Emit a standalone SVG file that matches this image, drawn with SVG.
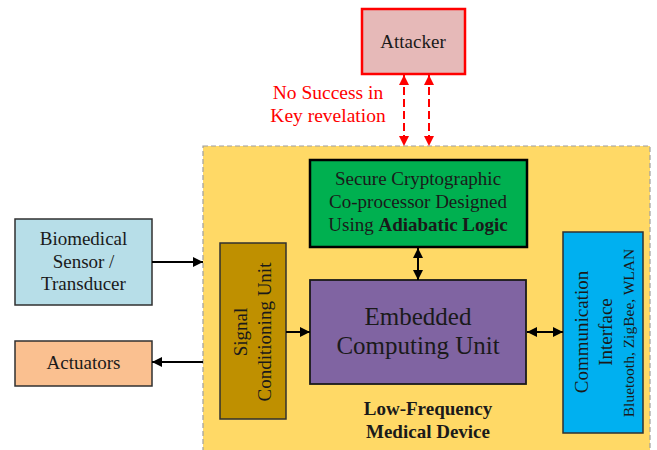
<svg xmlns="http://www.w3.org/2000/svg" width="657" height="450" viewBox="0 0 657 450">
<defs>
<marker id="ah" viewBox="0 0 10 10" refX="10" refY="5" markerWidth="11" markerHeight="10" markerUnits="userSpaceOnUse" orient="auto-start-reverse">
<path d="M0,0 L10,5 L0,10 z" fill="#000"/>
</marker>
<marker id="ahr" viewBox="0 0 10 10" refX="10" refY="5" markerWidth="11" markerHeight="10" markerUnits="userSpaceOnUse" orient="auto-start-reverse">
<path d="M0,0 L10,5 L0,10 z" fill="#ff0000"/>
</marker>
</defs>
<style>
text{font-family:'Liberation Serif','Times New Roman','DejaVu Serif',serif;font-size:19px;fill:#1a1a1a;text-anchor:middle}
.box{stroke:#303030;stroke-width:1.5}
.conn{stroke:#000;stroke-width:2;fill:none}
.red{stroke:#ff0000;stroke-width:2;fill:none;stroke-dasharray:8,4}
.b{font-weight:bold}
</style>
<rect width="657" height="450" fill="#fff"/>
<g font-family="Liberation Serif, Times New Roman, serif">
<g id="device">
<rect x="203" y="146" width="447" height="310" fill="#ffd966" stroke="#a0a0a0" stroke-width="1.2" stroke-dasharray="5,3"/>
<text class="b" x="428" y="415">Low-Frequency</text>
<text class="b" x="428" y="438">Medical Device</text>
</g>
<g id="attacker">
<rect x="362" y="9" width="103" height="65" fill="#e6b9b8" stroke="#ff0000" stroke-width="2.5"/>
<text x="413" y="48">Attacker</text>
</g>
<g id="attack-label">
<text x="328" y="99" style="fill:#ff0000;font-size:19.5px">No Success in</text>
<text x="328" y="122" style="fill:#ff0000;font-size:19.5px">Key revelation</text>
</g>
<g id="sensor">
<rect class="box" x="15" y="219" width="137" height="86" fill="#b7dee8"/>
<text x="83.5" y="245">Biomedical</text>
<text x="83.5" y="268">Sensor /</text>
<text x="83.5" y="290">Transducer</text>
</g>
<g id="actuators">
<rect class="box" x="15" y="341" width="137" height="45" fill="#fac090"/>
<text x="83.5" y="369">Actuators</text>
</g>
<g id="signal">
<rect class="box" x="220" y="243" width="66" height="176" fill="#bf9000"/>
<text transform="translate(247,332) rotate(-90)">Signal</text>
<text transform="translate(271,332) rotate(-90)">Conditioning Unit</text>
</g>
<g id="crypto">
<rect x="310" y="160" width="217" height="87" fill="#00b050" stroke="#000" stroke-width="2.5"/>
<text x="418" y="185">Secure Cryptographic</text>
<text x="418" y="208">Co-processor Designed</text>
<text x="418" y="231">Using <tspan class="b">Adiabatic Logic</tspan></text>
</g>
<g id="ecu">
<rect x="310" y="280" width="216" height="104" fill="#8064a2" stroke="#1a1a1a" stroke-width="1.8"/>
<text x="418" y="325" style="font-size:25px">Embedded</text>
<text x="418" y="354" style="font-size:25px">Computing Unit</text>
</g>
<g id="comm">
<rect class="box" x="563" y="232" width="80" height="201" fill="#00b0f0"/>
<text transform="translate(588,332) rotate(-90)">Communication</text>
<text transform="translate(612,332) rotate(-90)">Interface</text>
<text transform="translate(634,333) rotate(-90)" style="font-size:15.5px">Bluetooth, ZigBee, WLAN</text>
</g>
</g>
<g id="connectors">
<line class="conn" x1="152" y1="262" x2="203" y2="262" marker-end="url(#ah)"/>
<line class="conn" x1="203" y1="362" x2="152" y2="362" marker-end="url(#ah)"/>
<line class="conn" x1="286" y1="332" x2="310" y2="332" marker-end="url(#ah)"/>
<line class="conn" x1="418" y1="248" x2="418" y2="280" marker-start="url(#ah)" marker-end="url(#ah)"/>
<line class="conn" x1="527" y1="332" x2="563" y2="332" marker-start="url(#ah)" marker-end="url(#ah)"/>
<line class="red" x1="404" y1="75" x2="404" y2="146" marker-start="url(#ahr)" marker-end="url(#ahr)"/>
<line class="red" x1="429" y1="75" x2="429" y2="146" marker-start="url(#ahr)" marker-end="url(#ahr)"/>
</g>
</svg>
